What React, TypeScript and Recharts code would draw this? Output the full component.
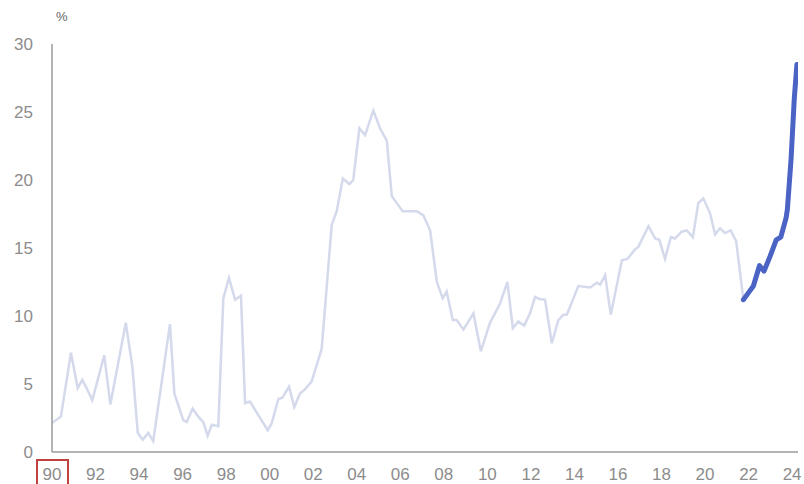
import React from 'react';
import { LineChart, Line, XAxis, YAxis } from 'recharts';

// Share, %, by decimal year
const historyYears = [
  1990.01, 1990.41, 1990.87, 1991.18, 1991.39, 1991.59, 1991.85, 1992.4, 1992.68, 1993.39,
  1993.69, 1993.94, 1994.17, 1994.42, 1994.65, 1995.42, 1995.62, 1996.03, 1996.19, 1996.46,
  1996.72, 1996.95, 1997.15, 1997.34, 1997.64, 1997.87, 1998.13, 1998.41, 1998.68, 1998.87,
  1999.1, 1999.91, 2000.09, 2000.4, 2000.58, 2000.89, 2001.13, 2001.39, 2001.62, 2001.93,
  2002.39, 2002.85, 2003.08, 2003.36, 2003.66, 2003.84, 2004.12, 2004.38, 2004.76, 2005.07,
  2005.38, 2005.61, 2005.84, 2006.11, 2006.76, 2007.06, 2007.37, 2007.68, 2007.95, 2008.13,
  2008.41, 2008.59, 2008.9, 2009.36, 2009.7, 2010.12, 2010.58, 2010.92, 2011.17, 2011.42,
  2011.69, 2011.96, 2012.19, 2012.39, 2012.65, 2012.96, 2013.26, 2013.49, 2013.65, 2014.18,
  2014.72, 2015.03, 2015.18, 2015.41, 2015.67, 2016.18, 2016.43, 2016.79, 2016.94, 2017.4,
  2017.71, 2017.9, 2018.16, 2018.43, 2018.62, 2018.93, 2019.16, 2019.44, 2019.69, 2019.92,
  2020.23, 2020.46, 2020.69, 2020.92, 2021.18, 2021.43, 2021.76,
];
const historyValues = [
  2.15, 2.6, 7.3, 4.7, 5.3, 4.7, 3.8, 7.1, 3.5, 9.5,
  6.3, 1.4, 0.9, 1.4, 0.8, 9.4, 4.3, 2.35, 2.2, 3.2,
  2.6, 2.2, 1.2, 2.0, 1.9, 11.3, 12.8, 11.2, 11.5, 3.6,
  3.7, 1.6, 2.1, 3.9, 4.0, 4.8, 3.3, 4.3, 4.6, 5.2,
  7.6, 16.7, 17.7, 20.1, 19.7, 20.0, 23.8, 23.3, 25.1, 23.8,
  22.9, 18.8, 18.3, 17.7, 17.7, 17.4, 16.3, 12.5, 11.3, 11.8,
  9.7, 9.7, 9.0, 10.2, 7.4, 9.5, 10.9, 12.5, 9.1, 9.6,
  9.3, 10.2, 11.4, 11.25, 11.2, 8.0, 9.7, 10.1, 10.1, 12.2,
  12.1, 12.45, 12.3, 13.0, 10.1, 14.1, 14.2, 14.9, 15.1, 16.6,
  15.7, 15.6, 14.2, 15.8, 15.7, 16.2, 16.3, 15.8, 18.3, 18.65,
  17.55, 16.0, 16.45, 16.1, 16.3, 15.5, 11.2,
];

const recentYears = [
  2021.76, 2021.99, 2022.22, 2022.5, 2022.71, 2022.99, 2023.27, 2023.48, 2023.72, 2023.78,
  2023.95, 2024.1, 2024.22,
];
const recentValues = [
  11.2, 11.7, 12.2, 13.7, 13.3, 14.4, 15.6, 15.8, 17.2, 17.8,
  21.5, 26.0, 28.5,
];

const xTicks = [
  1990, 1992, 1994, 1996, 1998, 2000, 2002, 2004, 2006, 2008, 2010, 2012, 2014, 2016, 2018,
  2020, 2022, 2024,
];
const yTicks = [0, 5, 10, 15, 20, 25, 30];

const historyData = historyYears.map((t, i) => ({ t, v: historyValues[i] }));
const recentData = recentYears.map((t, i) => ({ t, v: recentValues[i] }));

const FONT = '"Liberation Sans", Arial, Helvetica, sans-serif';
const LABEL_COLOR = '#8c8c8c';

const yearLabel = (y: number) => String(y % 100).padStart(2, '0');

interface TickProps {
  x?: number;
  y?: number;
  payload?: { value: number };
}

// x tick with the first year boxed in red
const YearTick: React.FC<TickProps> = ({ x = 0, y = 0, payload }) => {
  const value = payload?.value ?? 0;
  return (
    <g>
      {value === 1990 && (
        <rect x={x - 15} y={y - 8} width={31} height={40} fill="none" stroke="#c0423f" strokeWidth={2} />
      )}
      <text x={x} y={y} dy="0.71em" textAnchor="middle" fill={LABEL_COLOR} fontSize={17} fontFamily={FONT}>
        {yearLabel(value)}
      </text>
    </g>
  );
};

const App: React.FC = () => {
  return (
    <div style={{ position: 'absolute', left: 0, top: 0, width: 804, height: 484, background: '#fff' }}>
      <div
        style={{
          position: 'absolute',
          left: 56,
          top: 9,
          fontFamily: FONT,
          fontSize: 13,
          color: '#666',
        }}
      >
        %
      </div>
      <LineChart width={804} height={484} margin={{ top: 44, right: 6, bottom: 0, left: 12 }}>
        <XAxis
          dataKey="t"
          type="number"
          domain={[1990, 2024.27]}
          ticks={xTicks}
          allowDataOverflow
          interval={0}
          stroke="#9a9a9a"
          strokeWidth={1.5}
          tickLine={false}
          tickMargin={10}
          height={32}
          tick={<YearTick />}
        />
        <YAxis
          type="number"
          domain={[0, 30]}
          ticks={yTicks}
          width={40}
          stroke="#9a9a9a"
          strokeWidth={1.5}
          tickLine={false}
          tickMargin={13}
          tick={{ fill: LABEL_COLOR, fontSize: 17, fontFamily: FONT }}
        />
        <Line
          data={historyData}
          dataKey="v"
          type="linear"
          stroke="#d4d9ec"
          strokeWidth={2.5}
          dot={false}
          isAnimationActive={false}
        />
        <Line
          data={recentData}
          dataKey="v"
          type="linear"
          stroke="#4a63c4"
          strokeWidth={5}
          strokeLinecap="round"
          strokeLinejoin="round"
          dot={false}
          isAnimationActive={false}
        />
      </LineChart>
    </div>
  );
};

export default App;
